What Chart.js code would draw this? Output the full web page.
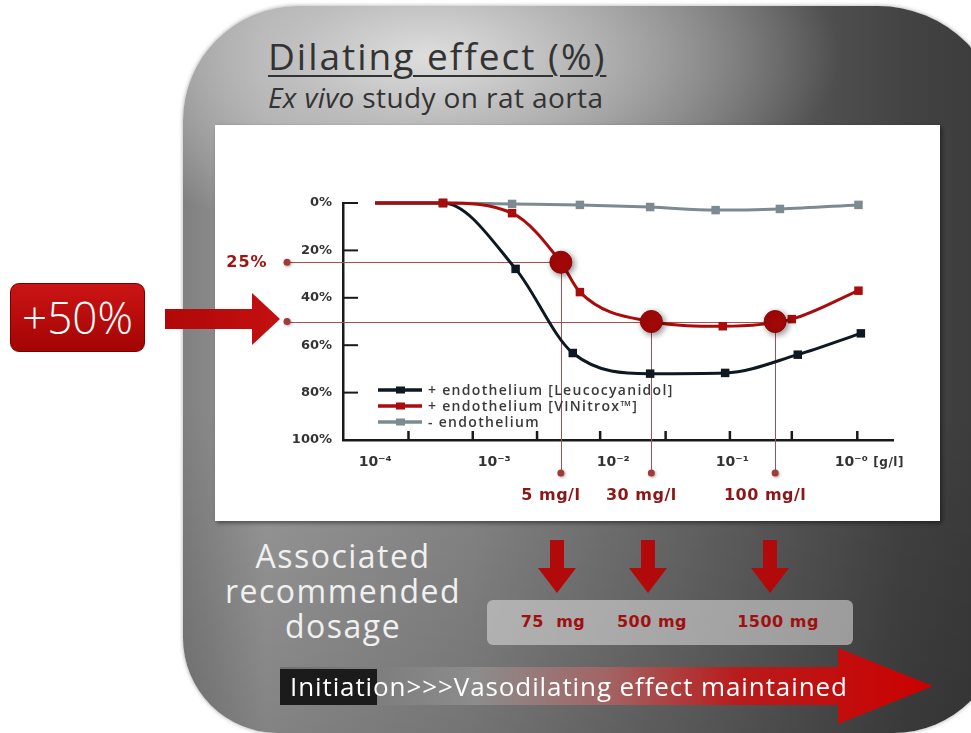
<!DOCTYPE html>
<html>
<head>
<meta charset="utf-8">
<script src="https://cdn.jsdelivr.net/npm/chart.js@4.4.1/dist/chart.umd.min.js"></script>
<style>
  html,body{margin:0;padding:0;background:#fff;}
  body{width:971px;height:733px;position:relative;overflow:hidden;font-family:"Open Sans",sans-serif;}
  #panel{position:absolute;left:183px;top:6px;width:820px;height:727px;
    border-radius:115px 125px 110px 95px;
    background:
      radial-gradient(ellipse 50% 25% at 30% 7%, rgba(222,222,222,1) 0%, rgba(200,200,200,0.8) 35%, rgba(170,170,170,0) 100%),
      linear-gradient(180deg, rgba(0,0,0,0) 55%, rgba(0,0,0,0.15) 100%),
      linear-gradient(90deg, #808080 0%, #9a9a9a 10%, #888 35%, #626262 65%, #434343 88%, #3a3a3a 100%);
    box-shadow:0 0 4px rgba(0,0,0,0.35);}
  #title{position:absolute;left:268px;top:37px;font-size:37px;line-height:37px;color:#333;text-decoration:underline;text-decoration-thickness:2px;text-underline-offset:5px;letter-spacing:2px;white-space:nowrap;}
  #subtitle{position:absolute;left:268px;top:83px;font-size:28px;line-height:28px;color:#333;white-space:nowrap;letter-spacing:0.4px;}
  #chartbox{position:absolute;left:215px;top:125px;width:725px;height:396px;background:#fff;box-shadow:2px 2px 4px rgba(0,0,0,0.45);}
  #assoc{position:absolute;left:190px;top:538px;width:306px;text-align:center;color:#f0f0f0;font-size:32px;line-height:35px;letter-spacing:1.5px;}
  #plus{position:absolute;left:10px;top:283px;width:133px;height:67px;border-radius:9px;background:linear-gradient(180deg,#cc1414,#a30404);border:1px solid #7a0000;color:#fff;font-size:44px;font-weight:300;line-height:67px;text-align:center;}
  #dosebox{position:absolute;left:487px;top:600px;width:366px;height:45px;border-radius:6px;background:rgba(215,215,215,0.6);}
  .dose{position:absolute;top:611px;transform:translateX(-50%);color:#a01010;font-family:"DejaVu Sans",sans-serif;font-weight:bold;font-size:16px;line-height:22px;letter-spacing:0.5px;white-space:nowrap;}
  #initbox{position:absolute;left:280px;top:669px;width:97px;height:36px;background:#1b1b1b;}
  #inittext{position:absolute;left:290px;top:670px;color:#fff;font-size:26px;line-height:32px;letter-spacing:0.9px;white-space:nowrap;}
  svg{position:absolute;left:0;top:0;}
</style>
</head>
<body>
<div id="panel"></div>
<div id="title">Dilating effect (%)</div>
<div id="subtitle"><i>Ex vivo</i> study on rat aorta</div>
<div id="chartbox"><canvas id="c" width="725" height="396"></canvas></div>
<div id="assoc">Associated<br>recommended<br>dosage</div>
<div id="plus">+50%</div>
<div id="dosebox"></div>
<div class="dose" style="left:553px">75&nbsp; mg</div>
<div class="dose" style="left:652px">500 mg</div>
<div class="dose" style="left:778px">1500 mg</div>
<svg width="971" height="733" viewBox="0 0 971 733">
  <defs>
    <linearGradient id="bigArrow" x1="280" y1="0" x2="933" y2="0" gradientUnits="userSpaceOnUse">
      <stop offset="0" stop-color="#707070"/>
      <stop offset="0.3" stop-color="#8c8c8c"/>
      <stop offset="0.5" stop-color="#a26464"/>
      <stop offset="0.7" stop-color="#b81c1c"/>
      <stop offset="1" stop-color="#cc0000"/>
    </linearGradient>
    <linearGradient id="redArrow" x1="0" y1="0" x2="1" y2="0">
      <stop offset="0" stop-color="#b00808"/>
      <stop offset="1" stop-color="#c41010"/>
    </linearGradient>
  </defs>
  <polygon points="165,309 252,309 252,293 280,319 252,345 252,329 165,329" fill="url(#redArrow)"/>
  <polygon points="550,540 564,540 564,568 576,568 557,593 538,568 550,568" fill="#b20a0a"/>
  <polygon points="641,540 655,540 655,568 667,568 648,593 629,568 641,568" fill="#b20a0a"/>
  <polygon points="763,540 777,540 777,568 789,568 770,593 751,568 763,568" fill="#b20a0a"/>
  <polygon points="280,667 838,667 838,648 933,686 838,724 838,705 280,705" fill="url(#bigArrow)"/>
</svg>
<div id="initbox"></div>
<div id="inittext">Initiation&gt;&gt;&gt;Vasodilating effect maintained</div>
<script>
// ---- data (x in log10 of concentration, g/l) ----
const xTickValues = [-4, -3, -2, -1, 0];
const xTickLabels = ['10⁻⁴', '10⁻³', '10⁻²', '10⁻¹', '10⁻⁰'];
const xUnitLabel = '[g/l]';
const xTickMarks = [-3.72, -3.18, -2.64, -2.11, -1.56, -1.02, -0.50, 0.05];
const yTickValues = [0, 20, 40, 60, 80, 100];
const yTickLabels = ['0%', '20%', '40%', '60%', '80%', '100%'];
const seriesNames = ['+ endothelium [Leucocyanidol]', '+ endothelium [VINitrox™]', '- endothelium'];
const leucoLogC = [-4.00, -3.43, -2.82, -2.34, -1.69, -1.06, -0.45, 0.08];
const leucoEffect = [0, 0, 27.8, 63.3, 72, 71.7, 64, 55];
const vinLogC = [-4.00, -3.43, -2.85, -2.44, -2.28, -1.68, -1.08, -0.50, 0.06];
const vinEffect = [0, 0, 4.3, 25, 37.6, 50, 52, 49, 37];
const noEndoLogC = [-4.00, -3.43, -2.85, -2.28, -1.69, -1.14, -0.60, 0.06];
const noEndoEffect = [0, 0, 0.4, 0.8, 1.7, 3.0, 2.5, 0.8];
const doseLogC = [-2.44, -1.68, -0.64];
const doseEffect = [25, 50, 50];
const doseLabels = ['5 mg/l', '30 mg/l', '100 mg/l'];
const refLevels = [25, 50];
const refLabels = ['25%', ''];

const BLACK = '#0e1822', RED = '#a80c0c', GRAY = '#7d8a91', REF = '#a85050';
const pts = (xs, ys) => xs.map((x, i) => ({x: x, y: ys[i]}));
const markerR = (xs) => (ctx) => (ctx.dataIndex === 0 || doseLogC.includes(xs[ctx.dataIndex])) ? 0 : 6;

const annot = {
  id: 'annot',
  beforeDatasetsDraw(chart) {
    const ctx = chart.ctx, xs = chart.scales.x, ys = chart.scales.y, a = chart.chartArea;
    const leftX = a.left - 56, dotY = a.bottom + 33;
    const snap = v => Math.round(v) + 0.5;
    ctx.save();
    ctx.strokeStyle = REF; ctx.lineWidth = 1;
    refLevels.forEach((lv, k) => {
      let maxX = -Infinity;
      doseLogC.forEach((d, i) => { if (doseEffect[i] === lv) maxX = Math.max(maxX, d); });
      const py = snap(ys.getPixelForValue(lv));
      ctx.beginPath(); ctx.moveTo(leftX, py); ctx.lineTo(xs.getPixelForValue(maxX), py); ctx.stroke();
    });
    doseLogC.forEach((d, i) => {
      const px = snap(xs.getPixelForValue(d));
      ctx.beginPath(); ctx.moveTo(px, ys.getPixelForValue(doseEffect[i])); ctx.lineTo(px, dotY); ctx.stroke();
    });
    ctx.fillStyle = '#a23a3a';
    ctx.shadowColor = 'rgba(0,0,0,0.35)'; ctx.shadowBlur = 3; ctx.shadowOffsetX = 1; ctx.shadowOffsetY = 1;
    refLevels.forEach(lv => { ctx.beginPath(); ctx.arc(leftX, ys.getPixelForValue(lv), 3.5, 0, Math.PI * 2); ctx.fill(); });
    doseLogC.forEach(d => { ctx.beginPath(); ctx.arc(xs.getPixelForValue(d), dotY, 3.5, 0, Math.PI * 2); ctx.fill(); });
    ctx.restore();
    ctx.save();
    ctx.fillStyle = '#a01414';
    ctx.font = 'bold 16px "DejaVu Sans"';
    ctx.textBaseline = 'middle';
    ctx.letterSpacing = '1px';
    ctx.textAlign = 'center';
    refLevels.forEach((lv, k) => { if (refLabels[k]) ctx.fillText(refLabels[k], leftX - 40, ys.getPixelForValue(lv) + 1); });
    ctx.fillStyle = '#8e1616';
    ctx.letterSpacing = '0.5px';
    doseLogC.forEach((d, i) => ctx.fillText(doseLabels[i], xs.getPixelForValue(d) - 10, a.bottom + 56));
    ctx.restore();
  },
  beforeDatasetDraw(chart, args) {
    if (args.index === 3) {
      const ctx = chart.ctx; ctx.save();
      ctx.shadowColor = 'rgba(0,0,0,0.45)'; ctx.shadowBlur = 6; ctx.shadowOffsetX = 2; ctx.shadowOffsetY = 2;
    }
  },
  afterDatasetDraw(chart, args) { if (args.index === 3) chart.ctx.restore(); },
  afterDraw(chart) {
    const ctx = chart.ctx, xs = chart.scales.x, ys = chart.scales.y, a = chart.chartArea;
    ctx.save();
    ctx.strokeStyle = '#1a1a1a'; ctx.lineWidth = 2.5;
    xTickMarks.forEach(v => { const px = xs.getPixelForValue(v); ctx.beginPath(); ctx.moveTo(px, a.bottom); ctx.lineTo(px, a.bottom - 9); ctx.stroke(); });
    ctx.lineWidth = 2;
    yTickValues.slice(0, -1).forEach(v => { const py = ys.getPixelForValue(v); ctx.beginPath(); ctx.moveTo(a.left, py); ctx.lineTo(a.left + 15, py); ctx.stroke(); });
    // unit label next to last x tick label
    ctx.fillStyle = '#333'; ctx.font = 'bold 12px "DejaVu Sans"'; ctx.textBaseline = 'middle'; ctx.textAlign = 'left';
    ctx.letterSpacing = '0.5px';
    ctx.fillText(xUnitLabel, xs.getPixelForValue(xTickValues[xTickValues.length - 1]) + 22, a.bottom + 23);
    // legend
    const lx = a.left + 35;
    [0, 1, 2].forEach((i, r) => {
      const ds = chart.data.datasets[i];
      const y = a.bottom - 50 + r * 16;
      ctx.strokeStyle = ds.borderColor; ctx.lineWidth = 3.5;
      ctx.beginPath(); ctx.moveTo(lx, y); ctx.lineTo(lx + 44, y); ctx.stroke();
      ctx.fillStyle = ds.borderColor; ctx.fillRect(lx + 18, y - 3.5, 9, 7);
      ctx.fillStyle = '#3a3a3a'; ctx.font = '600 14px "Open Sans"'; ctx.letterSpacing = '1.3px';
      ctx.fillText(ds.label, lx + 50, y + 1);
      ctx.letterSpacing = '0px';
    });
    ctx.restore();
  }
};

new Chart(document.getElementById('c'), {
  type: 'line',
  data: {
    datasets: [
      {label: seriesNames[0], data: pts(leucoLogC, leucoEffect), borderColor: BLACK, backgroundColor: BLACK, borderWidth: 3,
       pointStyle: 'rect', pointRadius: markerR(leucoLogC), pointBorderWidth: 0, cubicInterpolationMode: 'monotone', order: 2, clip: false},
      {label: seriesNames[1], data: pts(vinLogC, vinEffect), borderColor: RED, backgroundColor: RED, borderWidth: 3,
       pointStyle: 'rect', pointRadius: markerR(vinLogC), pointBorderWidth: 0, cubicInterpolationMode: 'monotone', order: 1, clip: false},
      {label: seriesNames[2], data: pts(noEndoLogC, noEndoEffect), borderColor: GRAY, backgroundColor: GRAY, borderWidth: 3,
       pointStyle: 'rect', pointRadius: markerR(noEndoLogC), pointBorderWidth: 0, cubicInterpolationMode: 'monotone', order: 3, clip: false},
      {label: 'dose', data: pts(doseLogC, doseEffect), showLine: false, pointStyle: 'circle', pointRadius: 11,
       backgroundColor: '#a30808', borderColor: '#8c0505', pointBorderWidth: 1, order: 0, clip: false}
    ]
  },
  options: {
    responsive: false, animation: false, devicePixelRatio: 1,
    layout: {padding: {top: 78, right: 47, left: 0, bottom: 0}},
    plugins: {legend: {display: false}, tooltip: {enabled: false}},
    scales: {
      x: {type: 'linear', min: -4.27, max: 0.35,
        afterBuildTicks: s => { s.ticks = xTickValues.map(v => ({value: v})); },
        afterFit: s => { s.height = 81; },
        grid: {display: false, drawTicks: false},
        border: {display: true, color: '#1a1a1a', width: 2.5},
        ticks: {padding: 14, color: '#333', autoSkip: false, maxRotation: 0,
          font: {family: 'DejaVu Sans', weight: 'bold', size: 14},
          callback: (v, i) => xTickLabels[i]}},
      y: {type: 'linear', min: 0, max: 100, reverse: true,
        afterBuildTicks: s => { s.ticks = yTickValues.map(v => ({value: v})); },
        afterFit: s => { s.width = 128; },
        grid: {display: false, drawTicks: false},
        border: {display: true, color: '#1a1a1a', width: 2.5},
        ticks: {padding: 11, color: '#333',
          font: {family: 'DejaVu Sans', weight: 'bold', size: 13},
          callback: (v, i) => yTickLabels[i]}}
    }
  },
  plugins: [annot]
});
</script>
</body>
</html>
